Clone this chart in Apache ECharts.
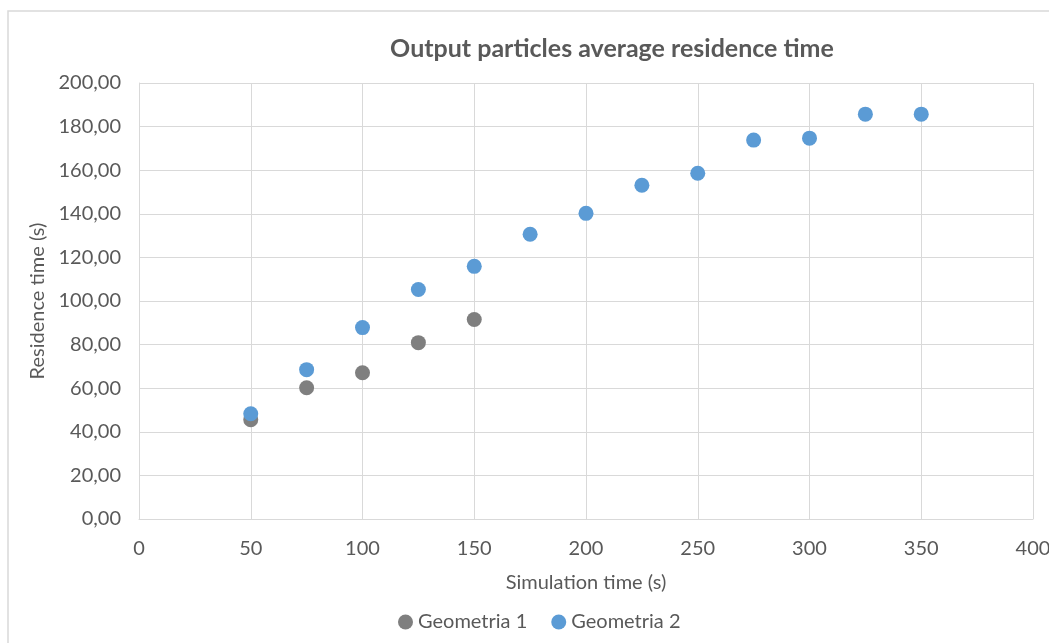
<!DOCTYPE html>
<html>
<head>
<meta charset="utf-8">
<script src="https://cdn.jsdelivr.net/npm/echarts@6/dist/echarts.min.js"></script>
<style>html,body{margin:0;padding:0;background:#fff;}#c{width:1049px;height:643px;}</style>
</head>
<body>
<div id="c"></div>
<script>
const geo1X = [50, 75, 100, 125, 150];
const geo1Y = [45.5, 60.2, 67.1, 80.9, 91.5];
const geo2X = [50, 75, 100, 125, 150, 175, 200, 225, 250, 275, 300, 325, 350];
const geo2Y = [48.3, 68.5, 87.8, 105.3, 115.9, 130.6, 140.2, 153.1, 158.6, 173.8, 174.7, 185.7, 185.7];
const seriesNames = ['Geometria 1', 'Geometria 2'];

const font = 'Lato, "Open Sans", sans-serif';
const chart = echarts.init(document.getElementById('c'));
chart.setOption({
  animation: false,
  backgroundColor: '#fff',
  graphic: [{
    type: 'rect', shape: {x: 8, y: 11, width: 1100, height: 700},
    style: {fill: 'none', stroke: '#d9d9d9', lineWidth: 1.5}, silent: true
  }],
  title: {
    text: 'Output particles average residence time',
    left: 607, top: 31, textAlign: 'center',
    textStyle: {fontFamily: font, fontSize: 25, fontWeight: 'bold', color: '#595959'}
  },
  legend: {
    data: seriesNames, bottom: 6, left: 393, itemGap: 24,
    icon: 'circle', itemWidth: 15, itemHeight: 15,
    textStyle: {fontFamily: font, fontSize: 20, color: '#595959'}
  },
  grid: {left: 139, right: 16, top: 83, bottom: 124, containLabel: false, outerBoundsMode: 'none'},
  xAxis: {
    type: 'value', min: 0, max: 400, interval: 50,
    name: 'Simulation time (s)', nameLocation: 'middle', nameGap: 54,
    nameTextStyle: {fontFamily: font, fontSize: 20, color: '#595959'},
    axisLine: {show: true, lineStyle: {color: '#d9d9d9'}},
    axisTick: {show: false},
    splitLine: {show: true, lineStyle: {color: '#d9d9d9'}},
    axisLabel: {fontFamily: font, fontSize: 20, color: '#595959', margin: 20}
  },
  yAxis: {
    type: 'value', min: 0, max: 200, interval: 20,
    name: 'Residence time (s)', nameLocation: 'middle', nameGap: 90, nameRotate: 90,
    nameTextStyle: {fontFamily: font, fontSize: 20, color: '#595959'},
    axisLine: {show: true, lineStyle: {color: '#d9d9d9'}},
    axisTick: {show: false},
    splitLine: {show: true, lineStyle: {color: '#d9d9d9'}},
    axisLabel: {fontFamily: font, fontSize: 20, color: '#595959', margin: 18,
      formatter: v => v.toFixed(2).replace('.', ',')}
  },
  series: [
    {name: seriesNames[0], type: 'scatter', symbolSize: 15, itemStyle: {color: '#7f7f7f', opacity: 1},
     data: geo1X.map((x, i) => [x, geo1Y[i]])},
    {name: seriesNames[1], type: 'scatter', symbolSize: 15, itemStyle: {color: '#5b9bd5', opacity: 1},
     data: geo2X.map((x, i) => [x, geo2Y[i]])}
  ]
});
</script>
</body>
</html>
